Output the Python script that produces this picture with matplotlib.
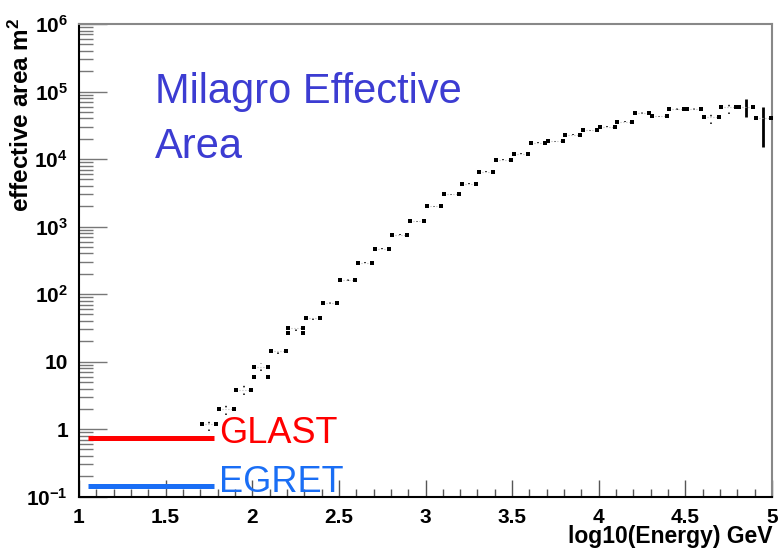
import numpy as np
import matplotlib
matplotlib.use("Agg")
import matplotlib.pyplot as plt
from matplotlib.ticker import FixedLocator, NullFormatter

plt.rcParams['font.family'] = ['Liberation Sans', 'DejaVu Sans']
plt.rcParams['mathtext.fontset'] = 'custom'
plt.rcParams['mathtext.rm'] = 'Liberation Sans:bold'
plt.rcParams['mathtext.bf'] = 'Liberation Sans:bold'
plt.rcParams['mathtext.default'] = 'rm'

# bin centres of log10(Energy), bin width 0.1
energy = [1.75, 1.85, 1.95, 2.05, 2.15, 2.25, 2.35, 2.45, 2.55, 2.65, 2.75,
          2.85, 2.95, 3.05, 3.15, 3.25, 3.35, 3.45, 3.55, 3.65, 3.75, 3.85,
          3.95, 4.05, 4.15, 4.25, 4.35, 4.45, 4.55, 4.65, 4.75, 4.85, 4.95]
area = [1.2, 2.0, 3.8, 8.3, 14.5, 31, 44, 74, 160, 290, 470, 760, 1200,
        2000, 3000, 4300, 6500, 9800, 12000, 17400, 18300, 23000, 26500,
        30000, 35500, 48000, 43000, 55000, 55000, 41500, 59000, 59000, 40000]
# lower / upper edges of the error bars
err_lo = [0.95, 1.6, 3.2, 7.2, 13, 28, 42, 72, 155, 285, 460, 750, 1180,
          1970, 2950, 4250, 6400, 9700, 11900, 17200, 18100, 22700, 26200,
          29500, 35000, 47000, 42000, 53500, 53500, 33000, 46000, 42000, 15000]
err_hi = [1.5, 2.5, 4.5, 9.5, 16, 34, 46, 76, 165, 295, 480, 770, 1220,
          2030, 3050, 4350, 6600, 9900, 12100, 17600, 18500, 23300, 26800,
          30500, 36000, 49000, 44000, 56500, 56500, 50000, 73000, 77000, 60000]
# second, overlapping entries
energy2 = [2.05, 2.25]
area2 = [6.0, 27]

glast_x = [1.05, 1.78]
glast_y = 0.74
egret_x = [1.05, 1.78]
egret_y = 0.145

yticks = [0.1, 1, 10, 1e2, 1e3, 1e4, 1e5, 1e6]
ylabels = [r'$10^{-1}$', '1', '10', r'$10^{2}$', r'$10^{3}$', r'$10^{4}$',
           r'$10^{5}$', r'$10^{6}$']
xticks = [1, 1.5, 2, 2.5, 3, 3.5, 4, 4.5, 5]
xlabels = ['1', '1.5', '2', '2.5', '3', '3.5', '4', '4.5', '5']

fig = plt.figure(figsize=(7.78, 5.48), dpi=100)
ax = fig.add_axes([79/778, 1 - 496.7/548, 693/778, (496.7 - 24)/548])

half = 0.042
e = np.array(energy)
a = np.array(area)
lo = np.array(err_lo)
hi = np.array(err_hi)
big = e > 4.8
ax.vlines(e[~big], lo[~big], hi[~big], colors='black', lw=1.1,
          linestyles=(0, (1, 4)), zorder=2)
ax.vlines(e[big], lo[big], hi[big], colors='black', lw=2.0, zorder=2)
ax.hlines(a, e - half, e + half, colors='#bbbbbb', lw=0.8, linestyles=':', zorder=2)
ax.plot(e - half, a, 's', color='black', ms=2.6, mew=0, zorder=3)
ax.plot(e + half, a, 's', color='black', ms=2.6, mew=0, zorder=3)
e2 = np.array(energy2)
ax.plot(e2 - half, area2, 's', color='black', ms=2.6, mew=0, zorder=3)
ax.plot(e2 + half, area2, 's', color='black', ms=2.6, mew=0, zorder=3)

ax.plot(glast_x, [glast_y, glast_y], color='#ff0000', lw=3.6, solid_capstyle='butt')
ax.plot(egret_x, [egret_y, egret_y], color='#1a6ef5', lw=3.6, solid_capstyle='butt')
ax.text(1.81, 0.62, 'GLAST', color='#ff0000', fontsize=26, va='baseline', ha='left')
ax.text(1.81, 0.117, 'EGRET', color='#1a6ef5', fontsize=26, va='baseline', ha='left')

ax.text(1.44, 6.8e4, 'Milagro Effective', color='#3c3cd2', fontsize=30,
        va='baseline', ha='left')
ax.text(1.44, 1.05e4, 'Area', color='#3c3cd2', fontsize=30,
        va='baseline', ha='left')

ax.set_yscale('log')
ax.set_xlim(1, 5)
ax.set_ylim(0.1, 1e6)
ax.set_yticks(yticks)
ax.set_yticklabels(ylabels)
minor_y = [m * 10.0**k for k in range(-1, 6) for m in range(2, 10)]
ax.yaxis.set_minor_locator(FixedLocator(minor_y))
ax.yaxis.set_minor_formatter(NullFormatter())
ax.set_xticks(xticks)
ax.set_xticklabels(xlabels)
ax.xaxis.set_minor_locator(FixedLocator(np.arange(1.1, 5.0, 0.1)))

for lab in ax.get_xticklabels() + ax.get_yticklabels():
    lab.set_fontweight('bold')
    lab.set_fontsize(15)

ax.tick_params(axis='y', which='major', direction='in', length=20, width=1, color='#777777', pad=8)
ax.tick_params(axis='y', which='minor', direction='in', length=10, width=1, color='#777777')
ax.tick_params(axis='x', which='major', direction='in', length=12, width=1, color='#555555', pad=8)
ax.tick_params(axis='x', which='minor', direction='in', length=6, width=1, color='#555555')

for s in ['left', 'bottom']:
    ax.spines[s].set_color('black')
    ax.spines[s].set_linewidth(1.5)
for s in ['top', 'right']:
    ax.spines[s].set_color('#888888')
    ax.spines[s].set_linewidth(1.5)

fig.text(21/778, 1 - 18/548, r'effective area m$^{2}$', rotation=90, ha='center', va='top',
         fontsize=17.5, fontweight='bold')
fig.text(772/778, 1 - 543/548, 'log10(Energy) GeV', ha='right', va='baseline',
         fontsize=16.5, fontweight='bold')

fig.savefig('out.png', dpi=100)
